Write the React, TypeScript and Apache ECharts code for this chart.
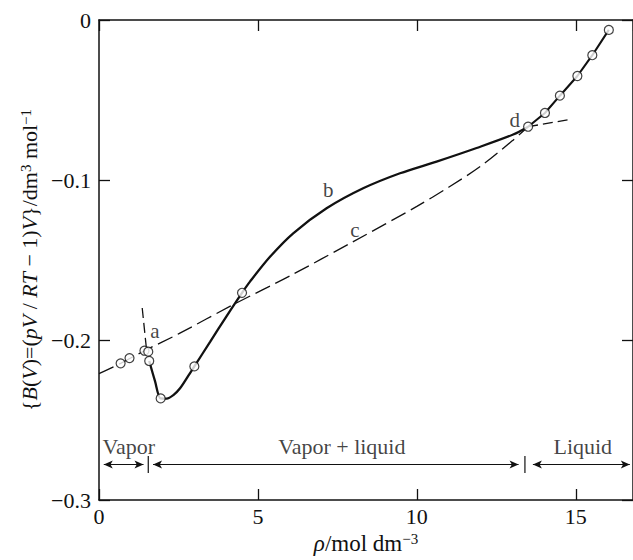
import React, { useEffect, useRef } from "react";
import * as echarts from "echarts";

// ---- data ----
const xTickValues = [0, 5, 10, 15];
const yTickValues = [0, -0.1, -0.2, -0.3];

// vapor measurements (open circles on the dashed line)
const vaporRho = [0.68, 0.96, 1.43, 1.55];
const vaporB = [-0.2146, -0.2113, -0.2067, -0.2073];

// measurements on curve b
const bPointRho = [1.58, 1.94, 3.0, 4.5];
const bPointB = [-0.2131, -0.2365, -0.2165, -0.1705];

// liquid measurements
const liquidRho = [13.5, 14.03, 14.5, 15.05, 15.52, 16.04];
const liquidB = [-0.0667, -0.0581, -0.0473, -0.035, -0.022, -0.0062];

// solid curve b
const curveBRho = [1.58, 1.76, 1.94, 2.13, 2.34, 2.55, 2.86, 3.0, 3.5, 4.0, 4.5, 4.75, 5.38, 6.11, 7.16, 8.31, 9.47, 10.62, 11.88, 13.03, 13.5];
const curveBB = [-0.2131, -0.2255, -0.2365, -0.2366, -0.2344, -0.2302, -0.2208, -0.2165, -0.201, -0.1855, -0.1705, -0.1635, -0.148, -0.1333, -0.1177, -0.1052, -0.0958, -0.0885, -0.08, -0.0716, -0.0667];

// dashed curve c (through vapor points to d)
const curveCRho = [0, 0.68, 1.43, 2.5, 4.25, 6.0, 8.0, 10.0, 11.0, 12.0, 13.0, 13.5];
const curveCB = [-0.221, -0.2146, -0.2067, -0.1962, -0.1776, -0.16, -0.1385, -0.1165, -0.1045, -0.0915, -0.0755, -0.0667];

// short dashed extension at a
const extARho = [1.36, 1.49];
const extAB = [-0.18, -0.205];

// short dashed extension beyond d
const extDRho = [13.5, 14.78];
const extDB = [-0.0667, -0.0623];

// curve letters
const letterText = ["a", "b", "c", "d"];
const letterRho = [1.76, 7.21, 8.05, 13.08];
const letterB = [-0.1946, -0.1063, -0.1311, -0.0625];

// phase regions
const regionText = ["Vapor", "Vapor + liquid", "Liquid"];
const regionRho = [0.94, 7.64, 15.22];
const regionB = [-0.2665, -0.2665, -0.2665];
const arrowStartRho = [0.15, 1.7, 13.65];
const arrowEndRho = [1.4, 13.2, 16.7];
const arrowB = [-0.2778, -0.2778, -0.2778];
const boundaryRho = [1.55, 13.4];
const boundaryTopB = [-0.2725, -0.2725];
const boundaryBottomB = [-0.2831, -0.2831];

const FONT = "'Liberation Serif', 'Times New Roman', 'DejaVu Serif', serif";
const INK = "#111";

const zip = (xs: number[], ys: number[]) => xs.map((x, i) => [x, ys[i]]);

const yFmt = (v: number) => (Math.abs(v) < 1e-9 ? "0" : "\u2212" + Math.abs(v).toFixed(1));

export default function App() {
  const ref = useRef<HTMLDivElement>(null);

  useEffect(() => {
    if (!ref.current) return;
    const chart = echarts.init(ref.current, null, { renderer: "svg" });

    const axisLine = { show: true, onZero: false, lineStyle: { color: INK, width: 1.5 } };
    const axisTick = { show: true, inside: true, length: 11, lineStyle: { color: INK, width: 1.3 } };

    const dashed = { color: INK, width: 1.3, type: [16, 6] as any };

    const option: any = {
      animation: false,
      backgroundColor: "#fff",
      grid: { left: 99, top: 20, right: 0, bottom: 60, containLabel: false },
      xAxis: [
        {
          type: "value",
          position: "bottom",
          min: 0,
          max: 16.8,
          interval: 5,
          axisLine,
          axisTick,
          splitLine: { show: false },
          axisLabel: {
            show: true,
            margin: 5,
            fontSize: 22,
            fontFamily: FONT,
            color: INK,
            showMaxLabel: false,
            formatter: (v: number) => (xTickValues.includes(v) ? String(v) : ""),
          },
          name: "{i|\u03c1}/mol dm{s|\u22123}",
          nameLocation: "middle",
          nameGap: 30,
          nameTextStyle: {
            fontSize: 23,
            fontFamily: FONT,
            color: INK,
            rich: {
              i: { fontSize: 23, fontFamily: FONT, fontStyle: "italic", color: INK },
              s: { fontSize: 15, fontFamily: FONT, color: INK, verticalAlign: "top" },
            },
          },
        },
        {
          type: "value",
          position: "top",
          min: 0,
          max: 16.8,
          interval: 5,
          axisLine,
          axisTick,
          splitLine: { show: false },
          axisLabel: { show: false },
        },
      ],
      yAxis: [
        {
          type: "value",
          position: "left",
          min: -0.3,
          max: 0,
          interval: 0.1,
          axisLine,
          axisTick,
          splitLine: { show: false },
          axisLabel: {
            show: true,
            margin: 8,
            fontSize: 22,
            fontFamily: FONT,
            color: INK,
            formatter: (v: number) =>
              yTickValues.some((t) => Math.abs(t - v) < 1e-9) ? yFmt(v) : "",
          },
          name:
            "{{i|B}({i|V})=({i|pV} / {i|RT} \u2212 1){i|V}}/dm{s|3} mol{s|\u22121}",
          nameLocation: "middle",
          nameRotate: 90,
          nameGap: 56,
          nameTextStyle: {
            fontSize: 22,
            fontFamily: FONT,
            color: INK,
            rich: {
              i: { fontSize: 22, fontFamily: FONT, fontStyle: "italic", color: INK },
              s: { fontSize: 15, fontFamily: FONT, color: INK, verticalAlign: "top" },
            },
          },
        },
        {
          type: "value",
          position: "right",
          min: -0.3,
          max: 0,
          interval: 0.1,
          axisLine,
          axisTick,
          splitLine: { show: false },
          axisLabel: { show: false },
        },
      ],
      series: [
        {
          name: "c",
          type: "line",
          data: zip(curveCRho, curveCB),
          symbol: "none",
          smooth: 0.3,
          lineStyle: dashed,
          silent: true,
          z: 2,
        },
        {
          name: "a-extension",
          type: "line",
          data: zip(extARho, extAB),
          symbol: "none",
          lineStyle: { ...dashed, type: [10, 5] },
          silent: true,
          z: 2,
        },
        {
          name: "d-extension",
          type: "line",
          data: zip(extDRho, extDB),
          symbol: "none",
          lineStyle: { ...dashed, type: [10, 5] },
          silent: true,
          z: 2,
        },
        {
          name: "b",
          type: "line",
          data: zip(curveBRho, curveBB),
          symbol: "none",
          smooth: 0.3,
          lineStyle: { color: INK, width: 2.3 },
          silent: true,
          z: 3,
        },
        {
          name: "liquid",
          type: "line",
          data: zip(liquidRho, liquidB),
          symbol: "none",
          lineStyle: { color: INK, width: 2.1 },
          silent: true,
          z: 3,
        },
        {
          name: "measurements",
          type: "scatter",
          data: [
            ...zip(vaporRho, vaporB),
            ...zip(bPointRho, bPointB),
            ...zip(liquidRho, liquidB),
          ],
          symbol: "circle",
          symbolSize: 9,
          itemStyle: { color: "#fff", borderColor: INK, borderWidth: 1.2 },
          silent: true,
          z: 5,
        },
        {
          name: "letters",
          type: "scatter",
          data: letterRho.map((x, i) => [x, letterB[i], letterText[i]]),
          symbolSize: 1,
          itemStyle: { color: "transparent" },
          label: {
            show: true,
            position: "inside",
            formatter: (p: any) => p.data[2],
            fontSize: 21,
            fontFamily: FONT,
            color: INK,
          },
          silent: true,
          z: 6,
        },
        {
          name: "regions",
          type: "scatter",
          data: regionRho.map((x, i) => [x, regionB[i], regionText[i]]),
          symbolSize: 1,
          itemStyle: { color: "transparent" },
          label: {
            show: true,
            position: "inside",
            formatter: (p: any) => p.data[2],
            fontSize: 22,
            fontFamily: FONT,
            color: INK,
          },
          silent: true,
          z: 6,
          markLine: {
            silent: true,
            animation: false,
            symbol: ["arrow", "arrow"],
            symbolSize: [6, 9],
            label: { show: false },
            lineStyle: { color: INK, width: 1.1, type: "solid" },
            data: arrowStartRho.map((s, i) => [
              { coord: [s, arrowB[i]] },
              { coord: [arrowEndRho[i], arrowB[i]] },
            ]),
          },
        },
        ...boundaryRho.map((x, i) => ({
          name: "boundary" + i,
          type: "line",
          data: [
            [x, boundaryTopB[i]],
            [x, boundaryBottomB[i]],
          ],
          symbol: "none",
          lineStyle: { color: INK, width: 1.2 },
          silent: true,
          z: 4,
        })),
      ],
    };

    chart.setOption(option);
    return () => chart.dispose();
  }, []);

  return (
    <div
      ref={ref}
      style={{ position: "absolute", left: 0, top: 0, width: 633, height: 560, background: "#fff" }}
    />
  );
}
